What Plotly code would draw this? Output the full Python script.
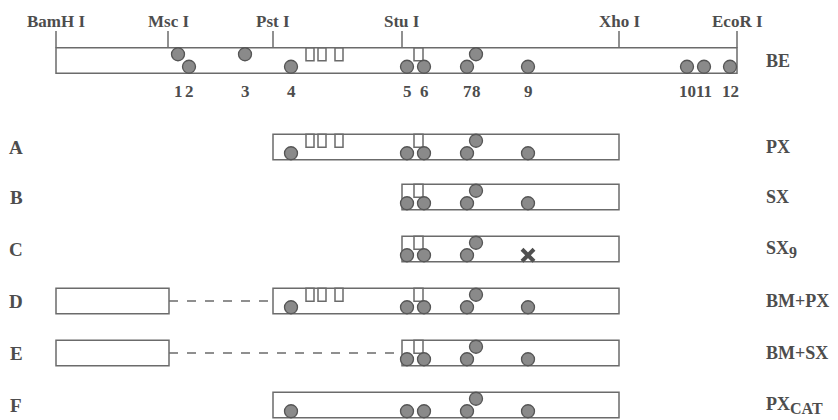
import plotly.graph_objects as go

# ---- data (map units along the BamH I - EcoR I fragment) ----
enzyme_names = ["BamH I", "Msc I", "Pst I", "Stu I", "Xho I", "EcoR I"]
enzyme_pos = [0, 112, 217, 346, 563, 681]

site_labels = ["1", "2", "3", "4", "5", "6", "7", "8", "9", "10", "11", "12"]
site_pos = [122, 133, 189, 235, 351, 368, 411, 420, 472, 631, 648, 674]
site_upper = [True, False, True, False, False, False, False, True, False, False, False, False]

repeat_start = [250, 262, 279, 358]
repeat_end = [258, 270, 287, 367]

row_letters = ["", "A", "B", "C", "D", "E", "F"]
row_names = ["BE", "PX", "SX", "SX<sub><span style='font-size:16px'>9</span></sub>", "BM+PX", "BM+SX",
             "PX<sub><span style='font-size:16px'>CAT</span></sub>"]
row_start = [0, 217, 346, 346, 217, 346, 217]
row_end = [681, 563, 563, 563, 563, 563, 563]
row_repeats = [True, True, True, True, True, True, False]
row_bm = [False, False, False, False, True, True, False]
row_mutated = [None, None, None, "9", None, None, None]
bm_start, bm_end = 0, 113

# ---- layout constants (pixels) ----
ROW_Y = [60.5, 147, 197, 249, 301, 353, 405]
HALF = 12.75
LINE = "#6b6b6b"
TXT = "#4d4d4d"
FONT = "Liberation Serif"
OFF = 8  # page body margin compensation

fig = go.Figure()
shapes = []
ann = []

def rect(x0, x1, y0, y1):
    shapes.append(dict(type="rect", xref="x", yref="y", x0=x0, x1=x1, y0=y0, y1=y1,
                       line=dict(color=LINE, width=1.5), fillcolor="rgba(0,0,0,0)", layer="below"))

for i, yc in enumerate(ROW_Y):
    top, bot = yc - HALF, yc + HALF
    rect(row_start[i], row_end[i], top, bot)
    if row_repeats[i]:
        for a, b in zip(repeat_start, repeat_end):
            if a >= row_start[i] and b <= row_end[i]:
                rect(a, b, top, top + 13)
    if row_bm[i]:
        rect(bm_start, bm_end, top, bot)
        shapes.append(dict(type="line", xref="x", yref="y", x0=bm_end, x1=row_start[i], y0=yc, y1=yc,
                           line=dict(color=LINE, width=1.5, dash="dash"), layer="below"))
    cx, cy, mx, my = [], [], [], []
    for lab, p, up in zip(site_labels, site_pos, site_upper):
        if row_start[i] <= p <= row_end[i] + 1:
            y = top + 6.5 if up else bot - 6.5
            if row_mutated[i] == lab:
                mx.append(p); my.append(y)
            else:
                cx.append(p); cy.append(y)
    fig.add_trace(go.Scatter(x=cx, y=cy, mode="markers", hoverinfo="skip",
                             marker=dict(size=13, color="#8a8a8a", line=dict(color="#555555", width=1.3))))
    if mx:
        fig.add_trace(go.Scatter(x=mx, y=my, mode="markers", hoverinfo="skip",
                                 marker=dict(size=12, symbol="x-thin", line=dict(color="#505050", width=4))))
    if row_letters[i]:
        ann.append(dict(x=-40, y=yc, text="<b>%s</b>" % row_letters[i], showarrow=False,
                        xanchor="center", yanchor="middle", font=dict(family=FONT, size=19, color=TXT)))
    ann.append(dict(x=708, y=yc, text="<b>%s</b>" % row_names[i], showarrow=False,
                    xanchor="left", yanchor="middle", font=dict(family=FONT, size=18, color=TXT)))

# restriction site ticks and labels
for name, p in zip(enzyme_names, enzyme_pos):
    shapes.append(dict(type="line", xref="x", yref="y", x0=p, x1=p, y0=31, y1=ROW_Y[0] - HALF,
                       line=dict(color=LINE, width=1.5), layer="below"))
    ann.append(dict(x=p, y=21, text="<b>%s</b>" % name, showarrow=False, xanchor="center",
                    yanchor="middle", font=dict(family=FONT, size=17, color=TXT)))

# site numbers
for lab, p in zip(site_labels, site_pos):
    ann.append(dict(x=p, y=91, text="<b>%s</b>" % lab, showarrow=False, xanchor="center",
                    yanchor="middle", font=dict(family=FONT, size=17, color=TXT)))

fig.update_layout(
    width=838, height=420, margin=dict(l=0, r=0, t=0, b=0),
    paper_bgcolor="white", plot_bgcolor="white", showlegend=False,
    xaxis=dict(range=[-56 + OFF, 782 + OFF], visible=False, fixedrange=True),
    yaxis=dict(range=[420 + OFF, OFF], visible=False, fixedrange=True),
    shapes=shapes, annotations=ann,
)
fig.write_html("out.html")
